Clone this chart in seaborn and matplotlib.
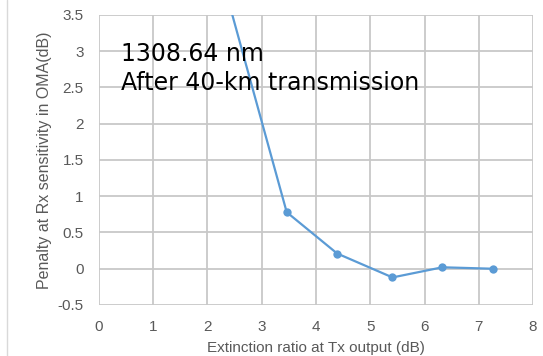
import matplotlib
matplotlib.use("Agg")
import matplotlib.pyplot as plt
import matplotlib.ticker as mticker
import seaborn as sns
import pandas as pd

# Measured penalty vs. extinction ratio
extinction_ratio_db = [2.2, 3.46, 4.39, 5.41, 6.33, 7.26]
penalty_db = [4.2, 0.78, 0.21, -0.12, 0.02, 0.0]

x_ticks = [0, 1, 2, 3, 4, 5, 6, 7, 8]
y_ticks = [-0.5, 0, 0.5, 1, 1.5, 2, 2.5, 3, 3.5]

title_lines = ["1308.64 nm", "After 40-km transmission"]

sns.set_theme(style="white")
plt.rcParams["font.family"] = ["Liberation Sans", "DejaVu Sans"]

df = pd.DataFrame({"er": extinction_ratio_db, "penalty": penalty_db})

fig = plt.figure(figsize=(5.43, 3.56), dpi=100)
ax = fig.add_axes([0.1823, 0.1433, 0.7993, 0.8146])

sns.lineplot(data=df, x="er", y="penalty", ax=ax, color="#5B9BD5",
             linewidth=1.6, marker="o", markersize=6, markeredgewidth=0,
             zorder=3)

ax.set_xlim(0, 8)
ax.set_ylim(-0.5, 3.5)
ax.set_xticks(x_ticks)
ax.set_yticks(y_ticks)
ax.yaxis.set_major_formatter(mticker.FuncFormatter(lambda v, p: f"{v:g}"))
ax.grid(True, color="#c8c8c8", linewidth=1.3)
ax.set_axisbelow(True)
for s in ax.spines.values():
    s.set_visible(False)
ax.tick_params(axis="x", length=0, labelsize=11, labelcolor="#595959", pad=11)
ax.tick_params(axis="y", length=0, labelsize=11, labelcolor="#595959", pad=11)

ax.set_xlabel("Extinction ratio at Tx output (dB)", fontsize=11, color="#595959", labelpad=5)
ax.set_ylabel("Penalty at Rx sensitivity in OMA(dB)", fontsize=11.5, color="#595959", labelpad=4)

# two-line annotation, baselines placed in data units
ax.text(0.40, 2.87, title_lines[0], fontsize=17, color="black", va="baseline",
        ha="left", family=["DejaVu Sans"], zorder=4)
ax.text(0.40, 2.46, title_lines[1], fontsize=17, color="black", va="baseline",
        ha="left", family=["DejaVu Sans"], zorder=4)

# thin chart-area border on the left
fig.add_artist(plt.Line2D([0.013, 0.013], [0, 1], color="#d9d9d9", linewidth=1,
                          transform=fig.transFigure))

fig.savefig("out.png", dpi=100)
